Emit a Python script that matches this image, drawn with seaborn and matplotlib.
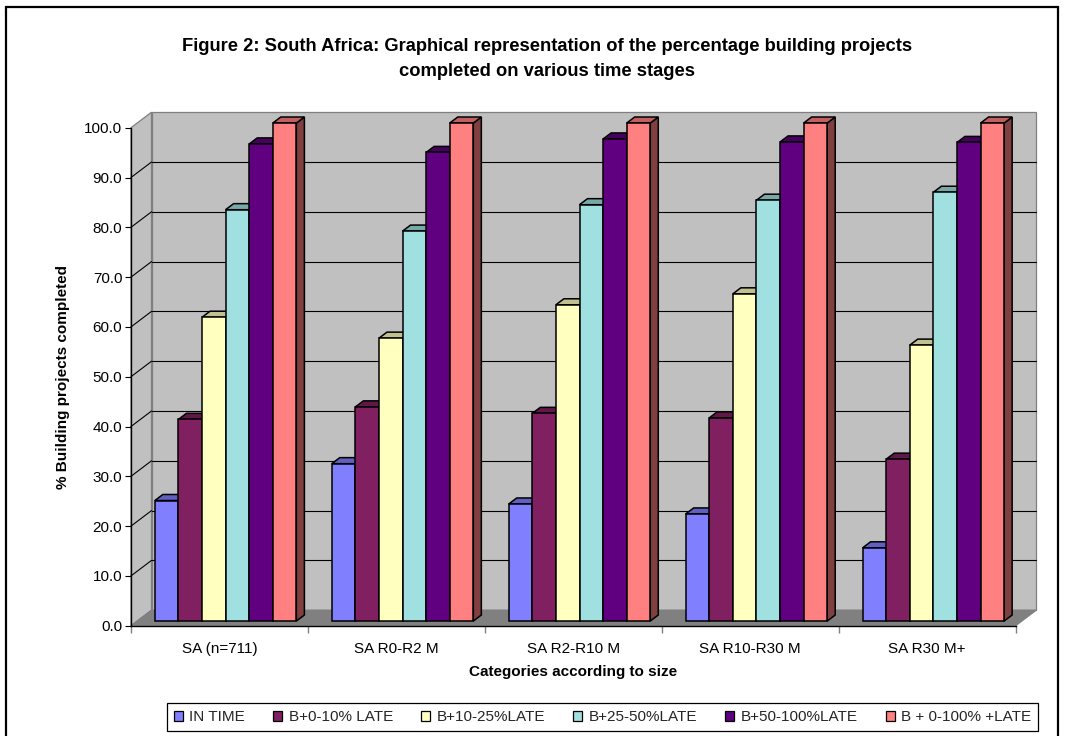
import numpy as np
import pandas as pd
import matplotlib
matplotlib.use("Agg")
import matplotlib.pyplot as plt
from matplotlib.patches import Polygon, Rectangle
from matplotlib.transforms import Affine2D
from matplotlib.ticker import FormatStrFormatter, FixedLocator
import seaborn as sns

# ---- data -------------------------------------------------------------
categories = ["SA (n=711)", "SA R0-R2 M", "SA R2-R10 M", "SA R10-R30 M", "SA R30 M+"]
series_names = ["IN TIME", "B+0-10% LATE", "B+10-25%LATE", "B+25-50%LATE",
                "B+50-100%LATE", "B + 0-100% +LATE"]
in_time = [24.2, 31.6, 23.5, 21.5, 14.7]
late_0_10 = [40.5, 43.0, 41.7, 40.8, 32.5]
late_10_25 = [61.0, 56.8, 63.5, 65.7, 55.4]
late_25_50 = [82.6, 78.3, 83.6, 84.5, 86.1]
late_50_100 = [95.8, 94.1, 96.8, 96.2, 96.1]
late_all = [100.0, 100.0, 100.0, 100.0, 100.0]
y_ticks = [0, 10, 20, 30, 40, 50, 60, 70, 80, 90, 100]

bar_colors = ["#8080FF", "#802060", "#FFFFC0", "#A0E0E0", "#600080", "#FF8080"]
top_colors = ["#6060C0", "#601848", "#C0C090", "#78A8A8", "#480060", "#C06060"]
side_colors = ["#404080", "#401030", "#808060", "#507070", "#300040", "#804040"]

series_values = [in_time, late_0_10, late_10_25, late_25_50, late_50_100, late_all]
rows = [(c, s, v) for s, vals in zip(series_names, series_values)
        for c, v in zip(categories, vals)]
df = pd.DataFrame(rows, columns=["category", "series", "value"])

# ---- style ------------------------------------------------------------
sns.set_theme(style="white")
plt.rcParams["font.family"] = ["Liberation Sans", "DejaVu Sans"]

W, H = 1066, 736
fig = plt.figure(figsize=(W / 100, H / 100), dpi=100)
fig.patch.set_facecolor("white")

# front plane of the 3-D box (pixel coordinates)
ax_left, ax_right, ax_bottom, ax_top = 131.0, 1015.7, 625.7, 127.7
ax = fig.add_axes([ax_left / W, 1 - ax_bottom / H,
                   (ax_right - ax_left) / W, (ax_bottom - ax_top) / H])
ax.set_facecolor("none")

sns.barplot(data=df, x="category", y="value", hue="series",
            order=categories, hue_order=series_names, palette=bar_colors,
            saturation=1, width=0.8, edgecolor="black", linewidth=1.1, ax=ax)

ax.set_xlim(-0.5, len(categories) - 0.5)
ax.set_ylim(0, 100)

# depth vector of the box, converted to data units
px_x = (ax_right - ax_left) / len(categories)
px_y = (ax_bottom - ax_top) / 100.0
DX = 20.5 / px_x
DY = 15.5 / px_y


def P(x, y, d):
    return (x + d * DX, y + d * DY)


x0b, x1b = -0.5, len(categories) - 0.5
wall_kw = dict(clip_on=False, zorder=0.2, linewidth=0.9)
# back wall, side wall, floor
ax.add_patch(Polygon([P(x0b, 0, 1), P(x1b, 0, 1), P(x1b, 100, 1), P(x0b, 100, 1)],
                     facecolor="#C0C0C0", edgecolor="#808080", **wall_kw))
ax.add_patch(Polygon([P(x0b, 0, 0), P(x0b, 0, 1), P(x0b, 100, 1), P(x0b, 100, 0)],
                     facecolor="#C0C0C0", edgecolor="#808080", **wall_kw))
ax.add_patch(Polygon([P(x0b, 0, 0), P(x1b, 0, 0), P(x1b, 0, 1), P(x0b, 0, 1)],
                     facecolor="#808080", edgecolor="#808080", **wall_kw))

# gridlines on back and side walls
for yv in y_ticks[1:-1]:
    a, b = P(x0b, yv, 1), P(x1b, yv, 1)
    ax.plot([a[0], b[0]], [a[1], b[1]], color="black", lw=0.8, zorder=0.5, clip_on=False)
    c = P(x0b, yv, 0)
    ax.plot([c[0], a[0]], [c[1], a[1]], color="black", lw=0.8, zorder=0.5, clip_on=False)

# bars: front faces from seaborn pushed into the box, plus top/side faces
f0, fd = 0.30, 0.39
shift = Affine2D().translate(f0 * DX, f0 * DY)
bars = sorted([p for p in ax.patches if isinstance(p, Rectangle) and p.get_height() > 0],
              key=lambda p: p.get_x())
for k, p in enumerate(bars):
    x0, w, h = p.get_x(), p.get_width(), p.get_height()
    fc = matplotlib.colors.to_hex(p.get_facecolor()).upper()
    hue_i = bar_colors.index(fc) if fc in bar_colors else 0
    ox, oy = f0 * DX, f0 * DY
    ddx, ddy = fd * DX, fd * DY
    top = [(x0 + ox, h + oy), (x0 + w + ox, h + oy),
           (x0 + w + ox + ddx, h + oy + ddy), (x0 + ox + ddx, h + oy + ddy)]
    side = [(x0 + w + ox, oy), (x0 + w + ox, h + oy),
            (x0 + w + ox + ddx, h + oy + ddy), (x0 + w + ox + ddx, oy + ddy)]
    ax.add_patch(Polygon(side, facecolor=side_colors[hue_i], edgecolor="black",
                         lw=1.1, clip_on=False, zorder=10 + 3 * k))
    ax.add_patch(Polygon(top, facecolor=top_colors[hue_i], edgecolor="black",
                         lw=1.1, clip_on=False, zorder=10 + 3 * k + 1))
    p.set_transform(shift + ax.transData)
    p.set_clip_on(False)
    p.set_zorder(10 + 3 * k + 2)

# axes, ticks and labels
for s in ["top", "right"]:
    ax.spines[s].set_visible(False)
for s in ["left", "bottom"]:
    ax.spines[s].set_color("black")
    ax.spines[s].set_linewidth(1.0)
    ax.spines[s].set_zorder(60)

ax.set_yticks(y_ticks)
ax.yaxis.set_major_formatter(FormatStrFormatter("%.1f"))
ax.tick_params(axis="y", left=True, direction="out", length=4.3, width=0.8,
               color="black", pad=2, labelsize=11, labelcolor="black")
ax.set_xticks(range(len(categories)))
ax.set_xticklabels(categories)
ax.xaxis.set_minor_locator(FixedLocator(np.arange(-0.5, len(categories), 1.0)))
ax.tick_params(axis="x", which="major", bottom=True, length=0, pad=12,
               labelsize=11, labelcolor="black")
ax.tick_params(axis="x", which="minor", bottom=True, direction="out", length=5,
               width=1.0, color="#808080")

ax.set_xlabel("Categories according to size", fontsize=11, fontweight="bold",
              labelpad=6, color="black")
ax.set_ylabel("% Building projects completed", fontsize=11, fontweight="bold",
              labelpad=10, color="black")

fig.text(547 / W, 1 - 59 / H,
         "Figure 2: South Africa: Graphical representation of the percentage building projects\n"
         "completed on various time stages",
         ha="center", va="center", fontsize=13.2, fontweight="bold",
         linespacing=1.55, color="black")

sns.move_legend(ax, "center", bbox_to_anchor=(602.5 / W, 1 - 717.2 / H),
                bbox_transform=fig.transFigure, ncol=6, title=None,
                frameon=True, fancybox=False, edgecolor="black", framealpha=1,
                fontsize=11, handlelength=0.6, handleheight=0.6,
                handletextpad=0.4, columnspacing=1.85, borderpad=0.45)
leg = ax.get_legend()
leg.get_frame().set_linewidth(0.9)
for hnd in leg.legend_handles:
    hnd.set_edgecolor("black")
    hnd.set_linewidth(0.9)

# outer chart border
fig.add_artist(Rectangle((6 / W, -0.02), (1058 - 6) / W, 1.02 - 7 / H,
                         transform=fig.transFigure, fill=False,
                         edgecolor="black", lw=1.6, clip_on=False))

fig.savefig("out.png", dpi=100)
